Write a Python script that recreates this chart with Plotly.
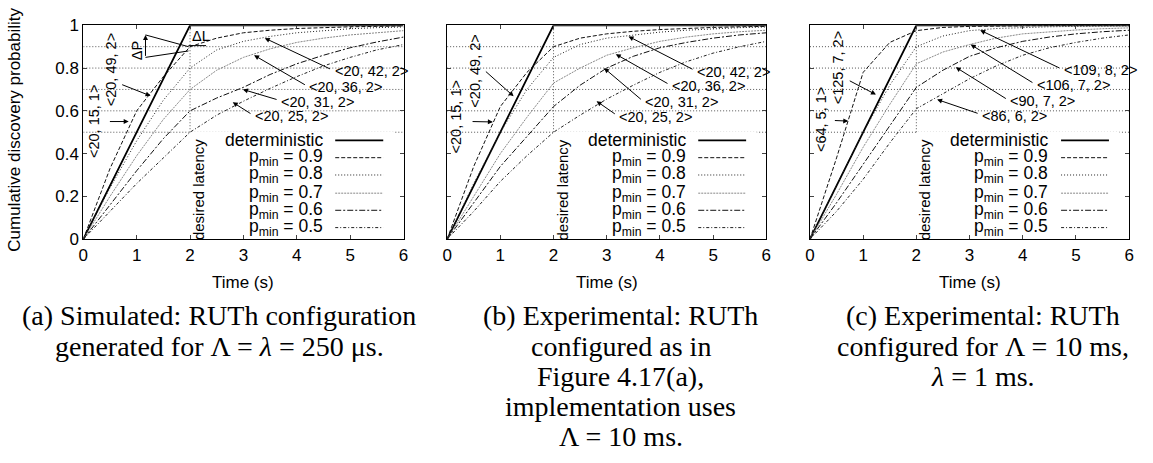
import plotly.graph_objects as go

# ---------------- data ----------------
time_s = [0, 0.5, 1, 1.5, 2, 2.5, 3, 3.5, 4, 4.5, 5, 5.5, 6]
series_names = ["deterministic", "p<sub>min</sub> = 0.9", "p<sub>min</sub> = 0.8",
                "p<sub>min</sub> = 0.7", "p<sub>min</sub> = 0.6", "p<sub>min</sub> = 0.5"]

# (a) simulated
a_det = [0, .25, .50, .75, 1, 1, 1, 1, 1, 1, 1, 1, 1]
a_p09 = [0, .33, .60, .76, .90, .94, .965, .977, .985, .99, .993, .995, .997]
a_p08 = [0, .24, .46, .65, .80, .885, .925, .948, .965, .976, .984, .989, .992]
a_p07 = [0, .20, .39, .56, .70, .79, .85, .89, .92, .94, .955, .966, .975]
a_p06 = [0, .16, .32, .47, .60, .66, .71, .77, .82, .86, .895, .922, .945]
a_p05 = [0, .13, .26, .38, .50, .58, .645, .705, .76, .81, .85, .885, .91]

# (b) experimental, same configuration
b_det = [0, .25, .50, .75, 1, 1, 1, 1, 1, 1, 1, 1, 1]
b_p09 = [0, .34, .62, .78, .90, .94, .96, .972, .98, .986, .99, .993, .995]
b_p08 = [0, .26, .50, .70, .85, .91, .94, .955, .968, .977, .984, .989, .992]
b_p07 = [0, .20, .40, .57, .73, .80, .86, .895, .925, .945, .96, .97, .977]
b_p06 = [0, .17, .34, .48, .62, .72, .80, .855, .895, .92, .94, .955, .965]
b_p05 = [0, .13, .27, .39, .50, .58, .655, .72, .78, .83, .87, .90, .925]

# (c) experimental, Lambda = 10 ms, lambda = 1 ms
c_det = [0, .25, .50, .75, 1, 1, 1, 1, 1, 1, 1, 1, 1]
c_p09 = [0, .38, .78, .92, .975, .99, .995, .997, .998, .999, 1, 1, 1]
c_p08 = [0, .25, .50, .72, .90, .95, .975, .985, .99, .993, .995, .996, .997]
c_p07 = [0, .21, .43, .63, .82, .875, .91, .94, .96, .97, .978, .984, .988]
c_p06 = [0, .17, .35, .53, .71, .79, .855, .895, .925, .945, .96, .97, .977]
c_p05 = [0, .13, .28, .45, .61, .68, .75, .81, .86, .895, .92, .94, .955]

x_ticks = [0, 1, 2, 3, 4, 5, 6]
y_ticks = [0, 0.2, 0.4, 0.6, 0.8, 1]
y_tick_text = ["0", "0.2", "0.4", "0.6", "0.8", "1"]
grid_levels = [0.5, 0.6, 0.7, 0.8, 0.9]

a_configs = ["<20, 15, 1>", "<20, 49, 2>", "<20, 42, 2>", "<20, 36, 2>", "<20, 31, 2>", "<20, 25, 2>"]
b_configs = ["<20, 15, 1>", "<20, 49, 2>", "<20, 42, 2>", "<20, 36, 2>", "<20, 31, 2>", "<20, 25, 2>"]
c_configs = ["<64, 5, 1>", "<125, 7, 2>", "<109, 8, 2>", "<106, 7, 2>", "<90, 7, 2>", "<86, 6, 2>"]

captions = [
    ["(a) Simulated: RUTh configuration", "generated for Λ = <i>λ</i> = 250 μs."],
    ["(b) Experimental: RUTh", "configured as in", "Figure 4.17(a),", "implementation uses", "Λ = 10 ms."],
    ["(c) Experimental: RUTh", "configured for Λ = 10 ms,", "<i>λ</i> = 1 ms."],
]

# ---------------- styles ----------------
W, H = 1153, 463
SANS = "Liberation Sans, Arial, Helvetica, sans-serif"
SERIF = "Liberation Serif, Times New Roman, serif"
styles = [
    dict(color="black", width=1.8, dash="solid"),
    dict(color="#111", width=1, dash="4px,2px"),
    dict(color="#222", width=1, dash="1px,2px"),
    dict(color="#888", width=1, dash="2px,1px"),
    dict(color="#111", width=1, dash="6px,2px,2px,2px"),
    dict(color="#222", width=1, dash="3px,2px,1px,2px"),
]

panels = [
    dict(data=[a_det, a_p09, a_p08, a_p07, a_p06, a_p05], cfg=a_configs, px=(79, 402),
         rot=[(0.19, 0.55), (0.52, 0.79)],
         rot_arrows=[((0.47, 0.55), (0.85, 0.55)), ((0.70, 0.725), (1.26, 0.67))],
         lab=[(4.67, 0.785), (4.20, 0.71), (3.67, 0.643), (3.18, 0.575)],
         tips=[(3.40, 0.94), (3.20, 0.86), (2.99, 0.70), (2.80, 0.64)]),
    dict(data=[b_det, b_p09, b_p08, b_p07, b_p06, b_p05], cfg=b_configs, px=(446, 768),
         rot=[(0.17, 0.57), (0.52, 0.787)],
         rot_arrows=[((0.45, 0.55), (0.86, 0.548)), ((0.70, 0.79), (1.25, 0.668))],
         lab=[(4.66, 0.783), (4.19, 0.716), (3.69, 0.64), (3.20, 0.573)],
         tips=[(3.41, 0.948), (3.17, 0.865), (2.95, 0.80), (2.81, 0.645)]),
    dict(data=[c_det, c_p09, c_p08, c_p07, c_p06, c_p05], cfg=c_configs, px=(812, 1134),
         rot=[(0.22, 0.56), (0.53, 0.80)],
         rot_arrows=[((0.44, 0.555), (0.72, 0.552)), ((0.72, 0.744), (1.24, 0.676))],
         lab=[(4.73, 0.79), (4.23, 0.72), (3.73, 0.645), (3.20, 0.578)],
         tips=[(3.20, 0.977), (3.02, 0.91), (2.74, 0.804), (2.39, 0.653)]),
]

PLOT_TOP, PLOT_BOT = 17, 240
GRID = dict(color="#555", width=1, dash="1px,2px")
fig = go.Figure()
shapes, annotations = [], []
layout_axes = {}

def esc(s):
    return s.replace("<", "&lt;").replace(">", "&gt;")

def arrow(xr, yr, tail, tip):
    return dict(xref=xr, yref=yr, x=tip[0], y=tip[1], ax=tail[0], ay=tail[1],
                axref=xr, ayref=yr, text="", showarrow=True,
                arrowhead=2, arrowsize=1, arrowwidth=1, arrowcolor="black")

for i, p in enumerate(panels):
    n = "" if i == 0 else str(i + 1)
    xr, yr = "x" + n, "y" + n
    x0, x1 = p["px"]
    layout_axes["xaxis" + n] = dict(
        domain=[x0 / W, x1 / W], range=[0, 6], anchor=yr, tickvals=x_ticks,
        ticks="inside", ticklen=4, mirror="ticks", showline=True, linecolor="black",
        linewidth=1, showgrid=False, zeroline=False,
        tickfont=dict(family=SANS, size=17, color="black"))
    layout_axes["yaxis" + n] = dict(
        domain=[1 - PLOT_BOT / H, 1 - PLOT_TOP / H], range=[0, 1], anchor=xr,
        tickvals=y_ticks, ticktext=y_tick_text,
        ticks="inside", ticklen=4, mirror="ticks", showline=True, linecolor="black",
        linewidth=1, showgrid=False, zeroline=False, showticklabels=(i == 0),
        tickfont=dict(family=SANS, size=17, color="black"))

    # grid lines (dotted) and legend background
    for g in grid_levels:
        shapes.append(dict(type="line", xref=xr, yref=yr, x0=0, x1=6, y0=g, y1=g,
                           layer="below", line=GRID))
    shapes.append(dict(type="rect", xref=xr, yref=yr, x0=2.0, x1=5.82, y0=0.005, y1=0.503,
                       layer="below", fillcolor="white", line=dict(width=0)))
    # desired latency line
    shapes.append(dict(type="line", xref=xr, yref=yr, x0=2, x1=2, y0=0.5, y1=1,
                       layer="below", line=GRID))
    annotations.append(dict(xref=xr, yref=yr, x=2.17, y=0.23, text="desired latency",
                            textangle=-90, showarrow=False, xanchor="center", yanchor="middle",
                            font=dict(family=SANS, size=15, color="black")))

    # curves
    for k, ys in enumerate(p["data"]):
        fig.add_trace(go.Scatter(x=time_s, y=ys, mode="lines", xaxis=xr, yaxis=yr,
                                 line=styles[k], showlegend=False, hoverinfo="skip"))

    # manual legend
    leg_y = [0.462, 0.381, 0.300, 0.215, 0.135, 0.054]
    for k, name in enumerate(series_names):
        annotations.append(dict(xref=xr, yref=yr, x=4.52, y=leg_y[k], text=name,
                                xanchor="right", yanchor="middle", showarrow=False,
                                font=dict(family=SANS, size=17.5, color="black")))
        shapes.append(dict(type="line", xref=xr, yref=yr, x0=4.72, x1=5.62,
                           y0=leg_y[k], y1=leg_y[k], line=styles[k]))

    # rotated configuration labels
    for k in range(2):
        cx, cy = p["rot"][k]
        annotations.append(dict(xref=xr, yref=yr, x=cx, y=cy, text=esc(p["cfg"][k]),
                                textangle=-90, showarrow=False, xanchor="center",
                                yanchor="middle",
                                font=dict(family=SANS, size=14.5, color="black")))
        tail, tip = p["rot_arrows"][k]
        annotations.append(arrow(xr, yr, tail, tip))
    # right-hand labels
    for k in range(4):
        lx, ly = p["lab"][k]
        annotations.append(dict(xref=xr, yref=yr, x=lx, y=ly, text=esc(p["cfg"][k + 2]),
                                xanchor="left", yanchor="middle", showarrow=False,
                                font=dict(family=SANS, size=14.5, color="black")))
        annotations.append(arrow(xr, yr, (lx - 0.02, ly + 0.008), p["tips"][k]))
    # x-axis title
    annotations.append(dict(xref="paper", yref="paper", x=(x0 + x1) / 2 / W, y=1 - 285 / H,
                            text="Time (s)", showarrow=False, xanchor="center",
                            yanchor="middle",
                            font=dict(family=SANS, size=17, color="black")))

# Delta P / Delta L sketch in panel (a)
annotations.append(arrow("x", "y", (1.165, 0.85), (1.165, 0.955)))
shapes.append(dict(type="line", xref="x", yref="y", x0=1.165, y0=0.955, x1=1.97, y1=0.90,
                   line=dict(color="black", width=1)))
shapes.append(dict(type="line", xref="x", yref="y", x0=1.165, y0=0.85, x1=1.97, y1=0.88,
                   line=dict(color="black", width=1)))
shapes.append(dict(type="line", xref="x", yref="y", x0=1.97, y0=0.905, x1=2.3, y1=0.905,
                   line=dict(color="black", width=1)))
annotations.append(dict(xref="x", yref="y", x=1.01, y=0.88, text="ΔP", textangle=-90,
                        showarrow=False, xanchor="center", yanchor="middle",
                        font=dict(family=SANS, size=14.5, color="black")))
annotations.append(dict(xref="x", yref="y", x=2.2, y=0.95, text="ΔL",
                        showarrow=False, xanchor="center", yanchor="middle",
                        font=dict(family=SANS, size=14.5, color="black")))

# y-axis title
annotations.append(dict(xref="paper", yref="paper", x=10 / W, y=1 - 126 / H,
                        text="Cumulative discovery probability", textangle=-90,
                        showarrow=False, xanchor="center", yanchor="middle",
                        font=dict(family=SANS, size=17, color="black")))

# captions
cap_cx = [216, 621, 987]
cap_y0, cap_dy = 320, 31.5
for cx, lines in zip(cap_cx, captions):
    for j, line in enumerate(lines):
        annotations.append(dict(xref="paper", yref="paper", x=cx / W,
                                y=1 - (cap_y0 + j * cap_dy) / H, text=line,
                                showarrow=False, xanchor="center", yanchor="middle",
                                font=dict(family=SERIF, size=28, color="black")))

fig.update_layout(width=W, height=H, margin=dict(l=0, r=0, t=0, b=0),
                  paper_bgcolor="white", plot_bgcolor="white",
                  shapes=shapes, annotations=annotations, showlegend=False,
                  **layout_axes)
fig.write_html("out.html")
